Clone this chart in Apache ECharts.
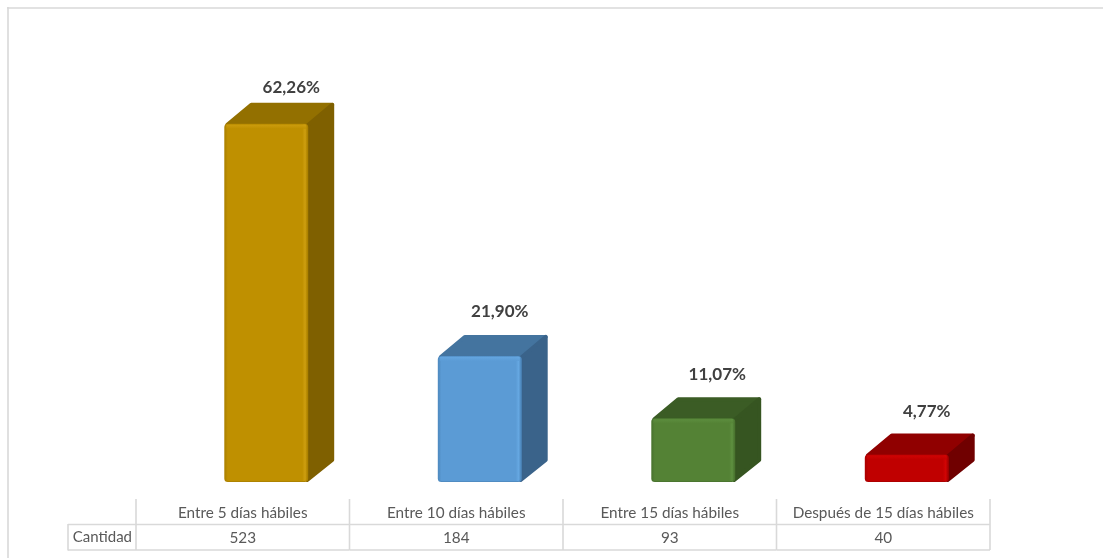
<!DOCTYPE html>
<html><head><meta charset="utf-8">
<style>html,body{margin:0;padding:0;background:#fff}#c{width:1103px;height:558px}</style>
<script src="https://cdn.jsdelivr.net/npm/echarts@6/dist/echarts.min.js"></script>
</head><body><div id="c"></div>
<script>
const categories = ['Entre 5 días hábiles','Entre 10 días hábiles','Entre 15 días hábiles','Después de 15 días hábiles'];
const cantidad = [523,184,93,40];
const porcentaje = [62.26,21.90,11.07,4.77];
const rowLabels = ['Cantidad',''];

const palette = [
  {front:'#BF9000',top:'#937000',side:'#7F6000',light:'#CF9F10',edge:'#AE8300'},
  {front:'#5B9BD5',top:'#44749F',side:'#3A638A',light:'#66A8E2',edge:'#508CC2'},
  {front:'#548235',top:'#3B5C25',side:'#365521',light:'#5E9040',edge:'#4B7630'},
  {front:'#C00000',top:'#900000',side:'#700000',light:'#D20404',edge:'#AE0000'}
];
const FONT = 'Lato, "Open Sans", sans-serif';
const LINE = '#D9D9D9', TXT = '#595959';
const labelNudge = [[25,-15],[20,-23],[24,-23],[20,-22]];

function bar3d(params, api){
  const i = params.dataIndex, c = palette[i];
  const top = api.coord([api.value(0), api.value(1)]);
  const base = api.coord([api.value(0), 0]);
  const w = api.size([1,0])[0]*0.393, dx = 26, dy = 21;
  const x0 = top[0]-w/2, x1 = top[0]+w/2, y0 = top[1], y1 = base[1];
  const round = {lineWidth:4, lineJoin:'round'};
  const txt = porcentaje[i].toFixed(2).replace('.',',')+'%';
  const n = labelNudge[i];
  return {type:'group', children:[
    {type:'polygon', shape:{points:[[x0+3,y0+1],[x0+dx+1,y0-dy+2],[x1+dx-2,y0-dy+2],[x1-1,y0+1]]},
      style:Object.assign({fill:c.top,stroke:c.top},round)},
    {type:'polygon', shape:{points:[[x1-1,y0+2],[x1+dx-2,y0-dy+2],[x1+dx-2,y1-dy-1],[x1-1,y1-2]]},
      style:Object.assign({fill:c.side,stroke:c.side},round)},
    {type:'rect', shape:{x:x0,y:y0,width:w,height:y1-y0,r:3.5}, style:{fill:c.edge}},
    {type:'rect', shape:{x:x0+1,y:y0+0.5,width:w-2,height:y1-y0-1.5,r:3},
      style:{fill:{type:'linear',x:0,y:0,x2:1,y2:0,colorStops:[
        {offset:0,color:c.edge},{offset:0.03,color:c.front},{offset:0.94,color:c.front},
        {offset:0.975,color:c.light},{offset:1,color:c.edge}]}}},
    {type:'rect', shape:{x:x0+2,y:y0+1,width:w-4,height:4},
      style:{fill:{type:'linear',x:0,y:0,x2:0,y2:1,colorStops:[
        {offset:0,color:c.light},{offset:1,color:c.front}]},opacity:0.8}},
    {type:'text', style:{x:x1-w/2+n[0], y:y0-dy+n[1], text:txt, fill:'#404040',
      font:'bold 17px '+FONT, align:'center', verticalAlign:'middle'}}
  ]};
}

function tableCol(params, api){
  const i = params.dataIndex;
  const head = api.coord([api.value(0), 1]);
  const row = api.coord([api.value(0), 0]);
  const w = api.size([1,0])[0], h = api.size([0,1])[1];
  const xl = head[0]-w/2, xr = head[0]+w/2;
  const yT = head[1]-h/2, yM = head[1]+h/2, yB = row[1]+h/2;
  const ln = (a,b,c,d)=>({type:'line',shape:{x1:a,y1:b,x2:c,y2:d},style:{stroke:LINE,lineWidth:1.6}});
  const kids = [ln(xr,yT,xr,yB), ln(xl,yM,xr,yM), ln(xl,yB,xr,yB)];
  if(i===0) kids.push(ln(xl,yT,xl,yB));
  kids.push({type:'text',style:{x:head[0],y:head[1]+1,text:categories[i],fill:TXT,font:'15.3px '+FONT,align:'center',verticalAlign:'middle'}});
  kids.push({type:'text',style:{x:row[0],y:row[1]+1,text:String(cantidad[i]),fill:TXT,font:'15.3px '+FONT,align:'center',verticalAlign:'middle'}});
  return {type:'group',children:kids};
}

const chart = echarts.init(document.getElementById('c'),null,{renderer:'canvas'});
chart.setOption({
  animation:false,
  backgroundColor:'#fff',
  grid:[
    {left:159.5,width:854,top:71,height:411},
    {left:136,width:854,top:499,height:51}
  ],
  xAxis:[
    {type:'category',data:categories,gridIndex:0,show:false},
    {type:'category',data:categories,gridIndex:1,show:false}
  ],
  yAxis:[
    {type:'value',min:0,max:600,gridIndex:0,show:false},
    {type:'category',data:rowLabels,gridIndex:1,axisLine:{show:false},axisTick:{show:false},splitLine:{show:false},
     axisLabel:{color:TXT,fontFamily:FONT,fontSize:15,margin:4,align:'right'}}
  ],
  series:[
    {type:'custom',xAxisIndex:0,yAxisIndex:0,clip:false,renderItem:bar3d,
     data:cantidad.map((v,i)=>[i,v])},
    {type:'custom',xAxisIndex:1,yAxisIndex:1,clip:false,renderItem:tableCol,
     data:categories.map((_,i)=>[i])}
  ],
  graphic:[
    {type:'line',shape:{x1:7,y1:8,x2:1103,y2:8},style:{stroke:LINE,lineWidth:1.6},silent:true},
    {type:'line',shape:{x1:8,y1:7,x2:8,y2:558},style:{stroke:LINE,lineWidth:1.6},silent:true},
    {type:'line',shape:{x1:68,y1:524.5,x2:136,y2:524.5},style:{stroke:LINE,lineWidth:1.6},silent:true},
    {type:'line',shape:{x1:68,y1:550,x2:136,y2:550},style:{stroke:LINE,lineWidth:1.6},silent:true},
    {type:'line',shape:{x1:68,y1:524,x2:68,y2:550.5},style:{stroke:LINE,lineWidth:1.6},silent:true}
  ]
});
</script></body></html>
